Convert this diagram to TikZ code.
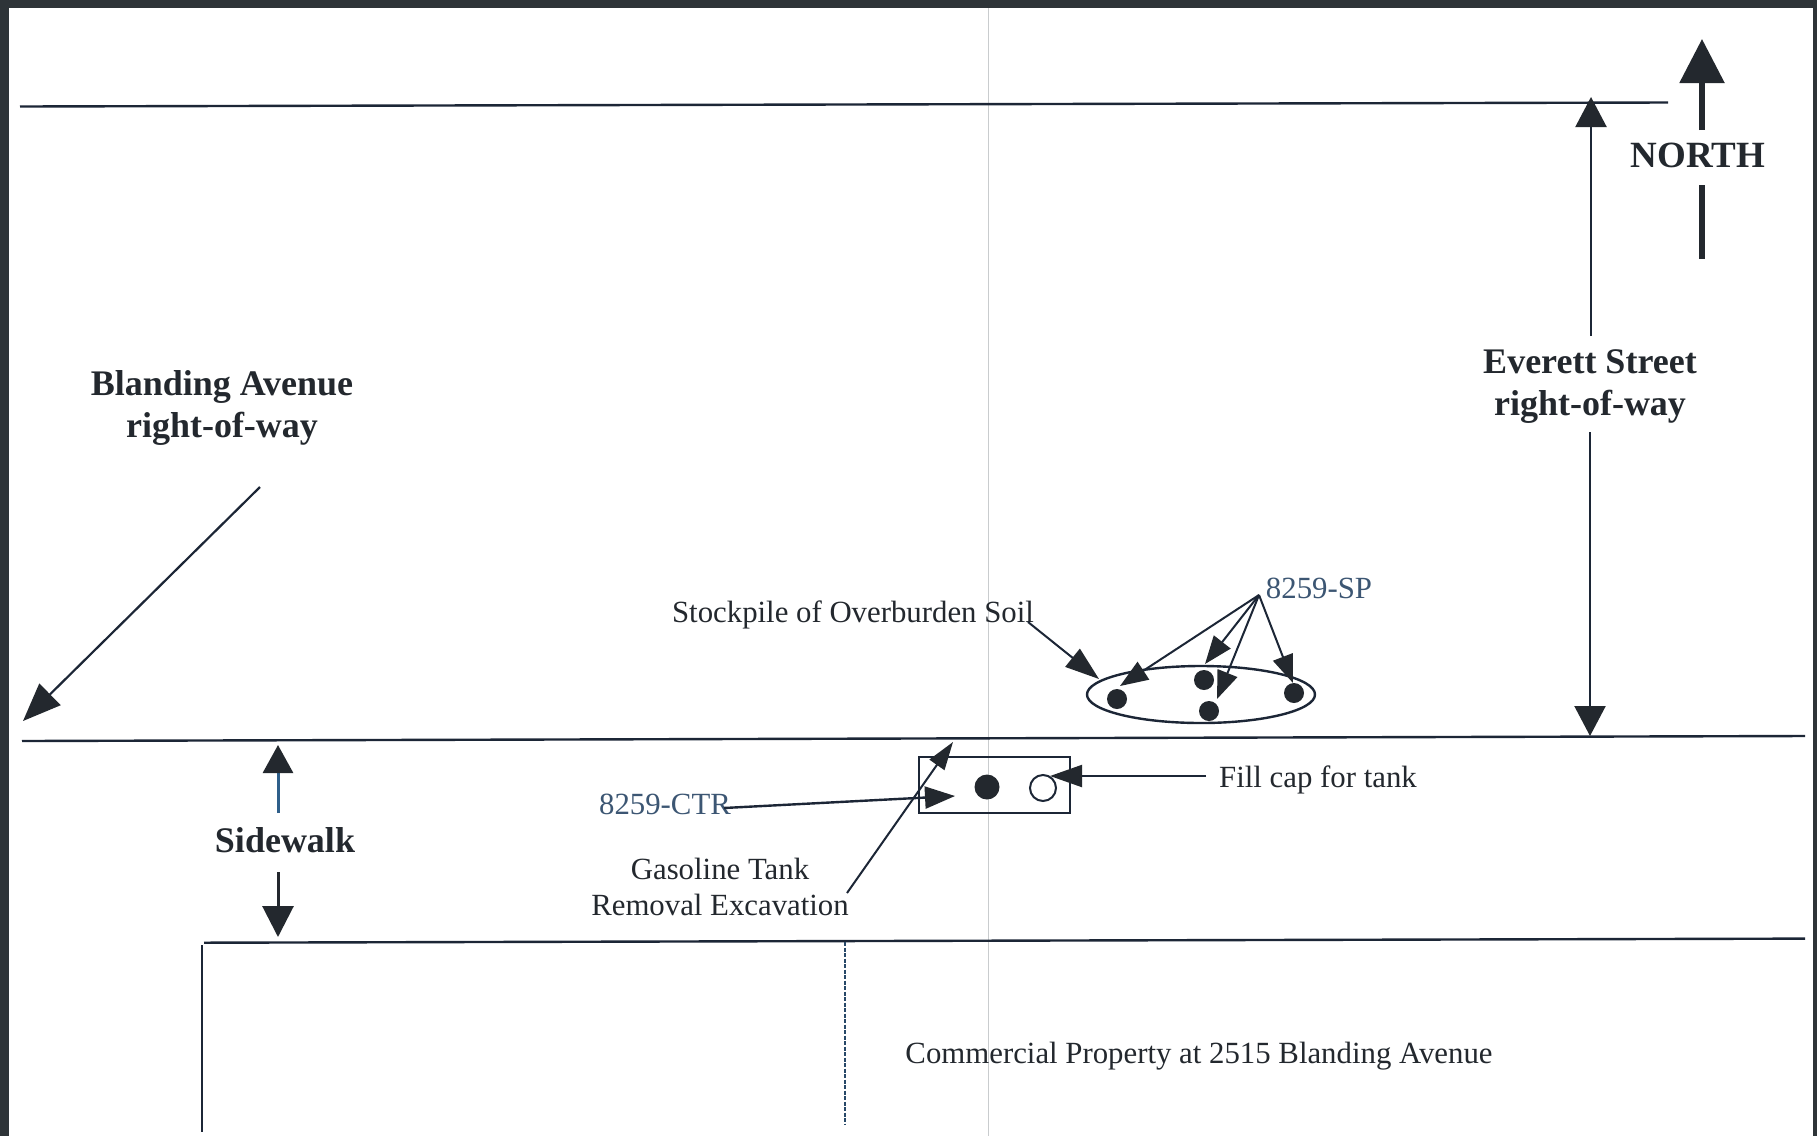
\documentclass[tikz,border=0pt]{standalone}
\usepackage{fontspec}
\setmainfont{Liberation Serif}
\usetikzlibrary{arrows.meta,shapes.geometric}
\definecolor{ink}{HTML}{23282E}
\definecolor{linecol}{HTML}{1C2636}
\definecolor{bluecol}{HTML}{3C5673}
\definecolor{framecol}{HTML}{2E3438}
\definecolor{foldcol}{HTML}{C9CCCE}
\definecolor{skyline}{HTML}{2F5F8A}
\tikzset{
  x=1pt,y=-1pt,
  plain/.style={font=\fontsize{30.8}{36}\selectfont,text=ink,inner sep=0pt,align=center},
  bluelabel/.style={font=\fontsize{30.8}{32}\selectfont,text=bluecol,inner sep=0pt},
  heavy/.style={font=\fontsize{36}{42}\selectfont\bfseries,text=ink,inner sep=0pt,align=center},
  road/.style={draw=linecol,line width=2.4pt},
  thin arrow/.style={draw=linecol,line width=2pt,-{Triangle[length=28pt,width=21pt,color=ink]}},
  big arrow/.style={draw=linecol,line width=2.2pt,-{Triangle[length=30pt,width=31pt,color=ink]}},
  sample/.style={circle,fill=ink,minimum size=20pt,inner sep=0pt},
}
\begin{document}
\begin{tikzpicture}
\useasboundingbox (0,0) rectangle (1817,1136);
\fill[white] (0,0) rectangle (1817,1136);
% scan frame
\fill[framecol] (0,0) rectangle (1817,8);
\fill[framecol] (0,0) rectangle (9,1136);
\fill[framecol] (1813,0) rectangle (1817,1136);
% page fold
\coordinate (foldT) at (988.5,8);
\coordinate (foldB) at (988.5,1136);
\draw[foldcol,line width=1.6pt] (foldT) -- (foldB);
% road lines
\coordinate (r1a) at (20,106.5);  \coordinate (r1b) at (1668,102.5);
\coordinate (r2a) at (22,741);    \coordinate (r2b) at (1805,736);
\coordinate (r3a) at (204,942.7); \coordinate (r3b) at (1805,938.6);
\coordinate (v1a) at (202,945);   \coordinate (v1b) at (202,1132);
\coordinate (v2a) at (845,942);   \coordinate (v2b) at (845,1124);
\draw[road] (r1a) -- (r1b);
\draw[road] (r2a) -- (r2b);
\draw[road] (r3a) -- (r3b);
\draw[road] (v1a) -- (v1b);
\draw[draw=skyline!60!linecol,line width=2.6pt,dash pattern=on 4pt off 1.5pt] (v2a) -- (v2b);
% labels
\node[heavy] (bland) at (222,408) {Blanding Avenue\\right-of-way};
\node[heavy] (ever) at (1590,386.5) {Everett Street\\right-of-way};
\node[heavy] (side) at (285,840) {Sidewalk};
\node[heavy,font=\fontsize{37}{40}\selectfont\bfseries] (north) at (1698,155) {NORTH};
\node[plain] (stock) at (853,615) {Stockpile of Overburden Soil};
\node[bluelabel] (sp) at (1319,588) {8259-SP};
\node[bluelabel] (ctr) at (665,804) {8259-CTR};
\node[plain] (fill) at (1318,780) {Fill cap for tank};
\node[plain] (gas) at (720,887) {Gasoline Tank\\Removal Excavation};
\node[plain] (comm) at (1199,1056) {Commercial Property at 2515 Blanding Avenue};
% stockpile
\node[draw=linecol,line width=2.4pt,ellipse,minimum width=228pt,minimum height=57pt,inner sep=0pt] (pile) at (1201,694.5) {};
\node[sample] (d1) at (1117,699) {};
\node[sample] (d2) at (1204,680) {};
\node[sample] (d3) at (1209,711) {};
\node[sample] (d4) at (1294,693) {};
% tank
\node[draw=linecol,line width=2.2pt,minimum width=151pt,minimum height=56pt,inner sep=0pt] (tank) at (994.5,785) {};
\node[sample,minimum size=25pt] (t1) at (987,787) {};
\node[draw=linecol,circle,line width=2pt,minimum size=26pt,inner sep=0pt] (t2) at (1043,788) {};
% connector ends
\coordinate (spO) at (1259,595);
\coordinate (sp1) at (1120,686);
\coordinate (sp2) at (1205,664);
\coordinate (sp3) at (1217,699);
\coordinate (sp4) at (1293,683);
\coordinate (stS) at (1028,622);
\coordinate (stE) at (1099,679);
\coordinate (fiS) at (1206,776);
\coordinate (fiE) at (1050,776);
\coordinate (ctS) at (724,808);
\coordinate (ctE) at (955,796);
\coordinate (gaS) at (847,893);
\coordinate (gaE) at (953,742);
\coordinate (blS) at (260,487);
\coordinate (blE) at (23,721);
\coordinate (evS) at (1591,336);
\coordinate (evE) at (1591,97);
\coordinate (ewS) at (1590,432);
\coordinate (ewE) at (1590,736);
\coordinate (noS) at (1702,130);
\coordinate (noE) at (1702,39);
\coordinate (nlS) at (1702,185);
\coordinate (nlE) at (1702,259);
\coordinate (swS) at (278,813);
\coordinate (swE) at (278,745);
\coordinate (sdS) at (278,872);
\coordinate (sdE) at (278,937);
% connectors
\foreach \e in {sp1,sp2,sp3,sp4} \draw[thin arrow] (spO) -- (\e);
\draw[thin arrow,-{Triangle[length=34pt,width=23pt,color=ink]}] (stS) -- (stE);
\draw[thin arrow,-{Triangle[length=32pt,width=22pt,color=ink]}] (fiS) -- (fiE);
\draw[thin arrow,line width=2.4pt,-{Triangle[length=30pt,width=22pt,color=ink]}] (ctS) -- (ctE);
\draw[thin arrow,-{Triangle[length=28pt,width=18pt,color=ink]}] (gaS) -- (gaE);
\draw[big arrow,-{Triangle[length=38pt,width=30pt,color=ink]}] (blS) -- (blE);
\draw[big arrow] (evS) -- (evE);
\draw[big arrow] (ewS) -- (ewE);
\draw[draw=ink,line width=5.5pt,-{Triangle[length=44pt,width=44pt,color=ink]}] (noS) -- (noE);
\draw[draw=ink,line width=5.5pt] (nlS) -- (nlE);
\draw[draw=skyline,line width=3pt,-{Triangle[length=28pt,width=30pt,color=ink]}] (swS) -- (swE);
\draw[draw=ink,line width=3pt,-{Triangle[length=31pt,width=31pt,color=ink]}] (sdS) -- (sdE);
\end{tikzpicture}
\end{document}
